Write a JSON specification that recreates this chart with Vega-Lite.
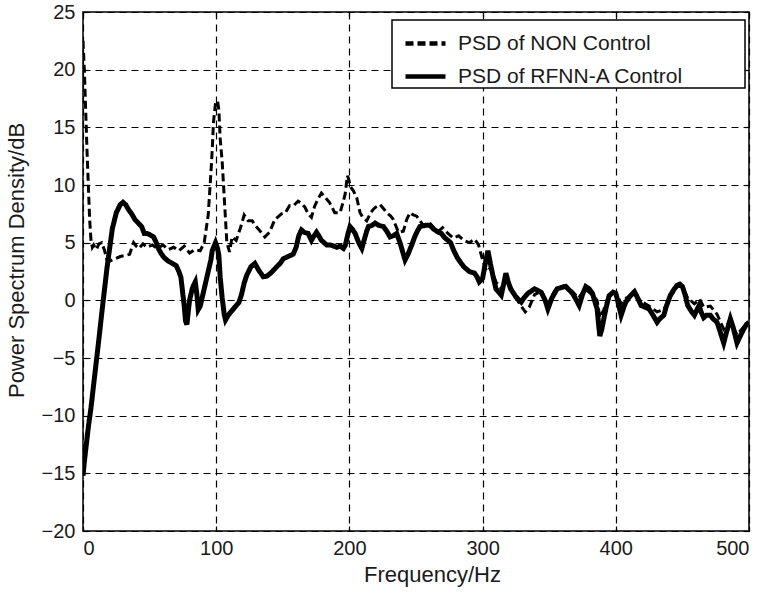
{
  "$schema": "https://vega.github.io/schema/vega-lite/v6.json",
  "width": 666,
  "height": 519,
  "autosize": {"type": "none"},
  "padding": {"left": 83, "top": 12, "right": 17, "bottom": 65},
  "background": "white",
  "config": {
    "view": {"stroke": "black", "strokeWidth": 1.5},
    "font": "Liberation Sans",
    "axis": {
      "labelFont": "Liberation Sans", "titleFont": "Liberation Sans",
      "labelFontSize": 20, "titleFontSize": 22, "titleFontWeight": "normal",
      "labelColor": "#1a1a1a", "titleColor": "#1a1a1a",
      "gridColor": "black", "gridDash": [7, 5], "gridWidth": 1.2, "gridOpacity": 1,
      "tickColor": "black", "tickWidth": 1.2, "domain": false
    },
    "legend": {
      "orient": "none", "legendX": 309, "legendY": 8,
      "strokeColor": "black", "strokeWidth": 1.5, "fillColor": "white",
      "padding": 1, "symbolType": "stroke", "symbolSize": 1600,
      "symbolStrokeWidth": 4.5, "symbolStrokeColor": "black", "symbolOffset": 10,
      "labelFont": "Liberation Sans", "labelFontSize": 21, "labelOffset": 10,
      "labelLimit": 500, "rowPadding": -1, "labelColor": "#1a1a1a"
    }
  },
  "datasets": {
    "non": [
      {"f":0,"v":22.5},{"f":1,"v":20},{"f":2,"v":16.5},{"f":3,"v":13},{"f":4,"v":10},{"f":5,"v":7},{"f":6,"v":5.2},{"f":7,"v":4.6},{"f":8,"v":4.8},{"f":10,"v":4.4},{"f":12,"v":4.9},{"f":14,"v":5.0},{"f":16,"v":4.4},{"f":18,"v":3.5},{"f":20,"v":3.4},{"f":24,"v":3.6},{"f":28,"v":3.8},{"f":32,"v":3.9},{"f":35,"v":4.0},{"f":38,"v":5.0},{"f":40,"v":4.7},{"f":42,"v":4.5},{"f":45,"v":4.9},{"f":48,"v":4.6},{"f":52,"v":4.8},{"f":56,"v":4.5},{"f":60,"v":4.8},{"f":64,"v":4.4},{"f":68,"v":4.6},{"f":72,"v":4.3},{"f":76,"v":4.7},{"f":80,"v":4.1},{"f":84,"v":4.4},{"f":88,"v":4.3},{"f":91,"v":5.0},{"f":94,"v":7.4},{"f":96,"v":11},{"f":97,"v":13},{"f":98,"v":15.5},{"f":99.5,"v":17.1},{"f":101,"v":17.3},{"f":102,"v":16.5},{"f":103,"v":14},{"f":104.5,"v":12},{"f":106,"v":9},{"f":107,"v":7},{"f":108,"v":5},{"f":110,"v":4.2},{"f":112,"v":5.5},{"f":115,"v":5.2},{"f":118,"v":6.2},{"f":121,"v":7.4},{"f":124,"v":6.9},{"f":127,"v":6.9},{"f":130,"v":6.4},{"f":133,"v":6.0},{"f":136.5,"v":5.5},{"f":140,"v":5.9},{"f":144,"v":7.0},{"f":149,"v":7.5},{"f":152,"v":7.6},{"f":155,"v":8.2},{"f":158,"v":8.2},{"f":161.5,"v":8.6},{"f":164,"v":8.4},{"f":166.5,"v":8.1},{"f":169,"v":7.5},{"f":171.5,"v":7.2},{"f":174,"v":8.2},{"f":177,"v":8.9},{"f":179,"v":9.3},{"f":182,"v":8.9},{"f":185,"v":8.5},{"f":189,"v":7.6},{"f":193,"v":7.6},{"f":195,"v":8.4},{"f":196.8,"v":9.2},{"f":198.5,"v":10.8},{"f":199.5,"v":10.5},{"f":200.5,"v":9.9},{"f":203,"v":9.5},{"f":205.5,"v":8.9},{"f":208,"v":7.6},{"f":210,"v":7.2},{"f":213,"v":6.9},{"f":216,"v":7.6},{"f":218,"v":7.9},{"f":220,"v":8.1},{"f":223,"v":8.3},{"f":226,"v":7.9},{"f":228,"v":7.6},{"f":231,"v":7.3},{"f":233,"v":7.0},{"f":236.8,"v":5.9},{"f":240.5,"v":6.0},{"f":243,"v":7.0},{"f":245.5,"v":7.6},{"f":248,"v":7.4},{"f":250.5,"v":7.3},{"f":253,"v":6.9},{"f":255.5,"v":6.5},{"f":258,"v":6.3},{"f":261,"v":6.6},{"f":264,"v":6.2},{"f":267,"v":6.0},{"f":270,"v":6.3},{"f":274,"v":5.8},{"f":278,"v":5.4},{"f":282,"v":5.6},{"f":286,"v":5.2},{"f":290,"v":5.0},{"f":294,"v":5.3},{"f":297,"v":4.8},{"f":300,"v":3.5},{"f":303,"v":2.5},{"f":306,"v":2.8},{"f":310,"v":1.6},{"f":314,"v":1.0},{"f":318,"v":2.0},{"f":321,"v":1.2},{"f":325,"v":0.2},{"f":329,"v":-0.5},{"f":332,"v":-1.0},{"f":335,"v":-0.6},{"f":339,"v":0.5},{"f":344,"v":0.8},{"f":349,"v":-0.4},{"f":353,"v":0.6},{"f":356,"v":1.1},{"f":362,"v":1.3},{"f":367,"v":0.8},{"f":372,"v":0.2},{"f":377,"v":1.0},{"f":382,"v":0.5},{"f":386,"v":0.0},{"f":388,"v":-1.5},{"f":391,"v":-0.8},{"f":395,"v":0.5},{"f":400,"v":0.7},{"f":404,"v":-0.3},{"f":408,"v":0.2},{"f":414,"v":0.6},{"f":419,"v":-0.1},{"f":425,"v":-0.5},{"f":431,"v":-1.0},{"f":436,"v":-0.8},{"f":441,"v":0.3},{"f":446,"v":1.2},{"f":450,"v":1.2},{"f":454,"v":0.2},{"f":459,"v":-0.3},{"f":463,"v":0.1},{"f":466,"v":-0.6},{"f":471,"v":-0.5},{"f":476,"v":-1.2},{"f":481,"v":-2.5},{"f":486,"v":-1.8},{"f":491,"v":-3.0},{"f":496,"v":-2.3},{"f":500,"v":-2.0}
    ],
    "rfnn": [
      {"f":0,"v":-15.2},{"f":1,"v":-14},{"f":2,"v":-13},{"f":4,"v":-11},{"f":6,"v":-9.3},{"f":8,"v":-7.3},{"f":10,"v":-5.3},{"f":12,"v":-3.3},{"f":14,"v":-1.2},{"f":16,"v":0.8},{"f":18,"v":2.8},{"f":20,"v":4.5},{"f":22,"v":6.2},{"f":25,"v":7.6},{"f":28,"v":8.3},{"f":30,"v":8.5},{"f":32,"v":8.3},{"f":34,"v":7.9},{"f":36.5,"v":7.5},{"f":39,"v":7.0},{"f":41.5,"v":6.7},{"f":44,"v":6.4},{"f":46,"v":5.8},{"f":48,"v":5.8},{"f":50,"v":5.7},{"f":53,"v":5.5},{"f":55,"v":5.0},{"f":57,"v":4.4},{"f":59,"v":4.0},{"f":61,"v":3.7},{"f":64,"v":3.4},{"f":67,"v":3.2},{"f":70,"v":3.0},{"f":72,"v":2.5},{"f":73.5,"v":2.0},{"f":75,"v":0.5},{"f":76,"v":-0.5},{"f":77,"v":-1.8},{"f":78,"v":-2.1},{"f":79,"v":-1.0},{"f":80,"v":0.0},{"f":81,"v":0.5},{"f":82,"v":1.0},{"f":83,"v":1.3},{"f":84.3,"v":1.6},{"f":85.5,"v":0.5},{"f":86.5,"v":-0.8},{"f":88,"v":-0.5},{"f":90,"v":0.5},{"f":92,"v":1.5},{"f":94,"v":2.5},{"f":96,"v":3.5},{"f":97,"v":4.3},{"f":99.5,"v":5.0},{"f":101,"v":4.5},{"f":102,"v":3.9},{"f":103,"v":2.0},{"f":104.5,"v":0.2},{"f":106,"v":-1.2},{"f":107,"v":-1.7},{"f":109,"v":-1.3},{"f":111,"v":-1.0},{"f":114,"v":-0.6},{"f":117,"v":-0.2},{"f":119,"v":0.5},{"f":121,"v":1.5},{"f":123,"v":2.2},{"f":126,"v":2.9},{"f":129,"v":3.2},{"f":132,"v":2.6},{"f":135.3,"v":2.05},{"f":138,"v":2.1},{"f":140.3,"v":2.3},{"f":143,"v":2.6},{"f":145.3,"v":2.9},{"f":148,"v":3.2},{"f":150.3,"v":3.6},{"f":154,"v":3.8},{"f":157.8,"v":4.0},{"f":160,"v":4.6},{"f":162,"v":5.6},{"f":164,"v":6.1},{"f":166,"v":5.9},{"f":169,"v":5.8},{"f":171.5,"v":5.2},{"f":173,"v":5.5},{"f":175.3,"v":5.9},{"f":177,"v":5.6},{"f":179,"v":5.2},{"f":181,"v":5.0},{"f":183,"v":4.8},{"f":186,"v":4.8},{"f":190.5,"v":4.6},{"f":193,"v":4.7},{"f":195.5,"v":4.5},{"f":197,"v":4.8},{"f":199,"v":5.8},{"f":200.5,"v":6.4},{"f":202,"v":6.2},{"f":204.3,"v":5.8},{"f":207,"v":5.0},{"f":209.3,"v":4.5},{"f":211,"v":5.2},{"f":213,"v":6.0},{"f":214.3,"v":6.4},{"f":217,"v":6.5},{"f":219.3,"v":6.7},{"f":222,"v":6.5},{"f":225.5,"v":6.4},{"f":228,"v":6.0},{"f":230.5,"v":5.5},{"f":233,"v":5.6},{"f":235.5,"v":5.8},{"f":238,"v":5.0},{"f":240,"v":4.2},{"f":241.8,"v":3.5},{"f":244,"v":4.0},{"f":246.8,"v":4.8},{"f":249,"v":5.5},{"f":251,"v":6.0},{"f":253,"v":6.4},{"f":257,"v":6.5},{"f":260.5,"v":6.5},{"f":263,"v":6.2},{"f":266.8,"v":5.9},{"f":269,"v":5.8},{"f":271.8,"v":5.4},{"f":274,"v":5.2},{"f":276,"v":5.0},{"f":278,"v":4.4},{"f":281,"v":3.7},{"f":284,"v":3.2},{"f":286,"v":2.9},{"f":290,"v":2.5},{"f":294,"v":2.35},{"f":296,"v":2.0},{"f":297.5,"v":1.6},{"f":300,"v":1.9},{"f":302,"v":3.2},{"f":304,"v":4.3},{"f":306,"v":3.1},{"f":308,"v":2.0},{"f":310,"v":1.0},{"f":314,"v":0.45},{"f":316,"v":1.5},{"f":317.5,"v":2.35},{"f":319,"v":1.7},{"f":321,"v":1.0},{"f":325,"v":0.3},{"f":329,"v":-0.15},{"f":331,"v":0.2},{"f":334,"v":0.6},{"f":339,"v":1.0},{"f":344,"v":0.7},{"f":347,"v":0.0},{"f":349,"v":-0.75},{"f":352,"v":0.2},{"f":356,"v":1.0},{"f":359,"v":1.1},{"f":362.5,"v":1.2},{"f":365,"v":0.9},{"f":367.5,"v":0.6},{"f":370,"v":0.1},{"f":372.5,"v":-0.45},{"f":375,"v":0.5},{"f":377.5,"v":1.2},{"f":380,"v":1.0},{"f":382.5,"v":0.6},{"f":384,"v":0.0},{"f":386,"v":-0.75},{"f":387,"v":-2.0},{"f":388,"v":-3.1},{"f":389.5,"v":-2.5},{"f":391,"v":-1.6},{"f":393,"v":-0.5},{"f":395,"v":0.4},{"f":398,"v":0.7},{"f":400,"v":0.6},{"f":402,"v":-0.3},{"f":404,"v":-1.3},{"f":406,"v":-0.6},{"f":407.5,"v":-0.15},{"f":411,"v":0.4},{"f":414,"v":0.75},{"f":416,"v":0.3},{"f":419,"v":-0.45},{"f":422,"v":-0.6},{"f":425,"v":-0.75},{"f":428,"v":-1.3},{"f":431,"v":-1.9},{"f":433,"v":-1.6},{"f":436,"v":-1.3},{"f":438,"v":-0.5},{"f":441,"v":0.45},{"f":444,"v":1.0},{"f":446,"v":1.3},{"f":448,"v":1.4},{"f":450,"v":1.2},{"f":452,"v":0.5},{"f":454,"v":-0.45},{"f":457,"v":-1.0},{"f":459,"v":-1.3},{"f":461,"v":-0.8},{"f":462.5,"v":-0.45},{"f":464,"v":-1.0},{"f":466,"v":-1.5},{"f":468,"v":-1.3},{"f":471,"v":-1.3},{"f":473,"v":-1.6},{"f":476,"v":-1.9},{"f":478,"v":-2.6},{"f":481,"v":-3.7},{"f":483,"v":-2.8},{"f":486,"v":-1.6},{"f":488,"v":-2.3},{"f":491,"v":-3.7},{"f":493,"v":-3.2},{"f":496,"v":-2.5},{"f":498,"v":-2.1},{"f":500,"v":-1.9}
    ]
  },
  "layer": [
    {
      "data": {"name": "non"},
      "mark": {"type": "line", "color": "black", "strokeWidth": 3, "clip": true},
      "encoding": {
        "x": {"field": "f", "type": "quantitative", "scale": {"domain": [0, 500], "nice": false},
              "axis": {"orient": "bottom", "values": [0, 100, 200, 300, 400, 500], "title": "Frequency/Hz",
                       "tickSize": -5, "labelPadding": 12, "titlePadding": 6, "titleX": 349, "grid": true}},
        "y": {"field": "v", "type": "quantitative", "scale": {"domain": [-20, 25], "nice": false},
              "axis": {"orient": "left", "values": [-20, -15, -10, -5, 0, 5, 10, 15, 20, 25], "title": "Power Spectrum Density/dB",
                       "tickSize": -5, "labelPadding": 13, "titlePadding": 13, "titleY": 248, "grid": true}},
        "strokeDash": {"datum": "PSD of NON Control", "type": "nominal",
          "scale": {"domain": ["PSD of NON Control", "PSD of RFNN-A Control"], "range": [[8, 4], [1, 0]]},
          "legend": {"title": null, "labelExpr": "datum.label + '\u2800\u2800\u2800\u2800'"}}
      }
    },
    {
      "data": {"name": "rfnn"},
      "mark": {"type": "line", "color": "black", "strokeWidth": 5, "clip": true},
      "encoding": {
        "x": {"field": "f", "type": "quantitative", "axis": null},
        "y": {"field": "v", "type": "quantitative", "axis": null},
        "strokeDash": {"datum": "PSD of RFNN-A Control", "type": "nominal",
          "legend": {"title": null, "labelExpr": "datum.label + '\u2800\u2800\u2800\u2800'"}}
      }
    },
    {
      "data": {"name": "non"},
      "mark": {"type": "line", "opacity": 0},
      "encoding": {
        "x": {"field": "f", "type": "quantitative",
              "axis": {"orient": "top", "values": [0, 100, 200, 300, 400, 500], "labels": false, "title": null, "tickSize": -5, "grid": false}},
        "y": {"field": "v", "type": "quantitative",
              "axis": {"orient": "right", "values": [-20, -15, -10, -5, 0, 5, 10, 15, 20, 25], "labels": false, "title": null, "tickSize": -5, "grid": false}}
      }
    }
  ],
  "resolve": {"axis": {"x": "independent", "y": "independent"}}
}
